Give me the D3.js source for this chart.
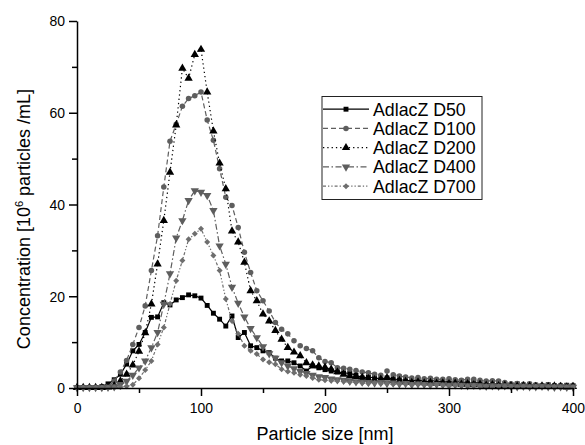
<!DOCTYPE html>
<html><head><meta charset="utf-8">
<script src="https://cdn.jsdelivr.net/npm/d3@7"></script>
<style>body{margin:0;background:#fff}svg{display:block}</style>
</head><body><svg id="c" width="585" height="445"></svg>
<script>
// Particle size bins (nm)
const sizes = d3.range(0, 401, 5);
const seriesNames = ["AdlacZ D50", "AdlacZ D100", "AdlacZ D200", "AdlacZ D400", "AdlacZ D700"];
const d50 = [
 0.1,0.1,0.1,0.1,0.3,0.9,1.8,3.0,5.2,8.1,
 9.5,12.1,15.4,15.5,18.6,18.1,19.2,19.7,20.3,20.1,
 19.6,18.0,16.3,15.0,13.5,15.7,11.0,12.1,9.2,8.8,
 8.1,7.7,6.5,5.9,5.9,5.5,4.8,3.7,4.8,4.4,
 4.0,3.7,3.5,3.3,3.2,2.8,2.2,2.4,2.2,2.0,
 2.2,2.0,1.8,1.7,1.5,1.8,1.4,1.5,1.6,1.3,
 1.4,1.2,1.5,1.0,1.2,1.1,0.9,1.0,0.8,0.9,
 0.7,0.9,0.6,0.8,0.6,0.5,0.7,0.5,0.4,0.6,
 0.5];
const d100 = [
 0.1,0.1,0.1,0.1,0.2,0.4,1.5,3.5,6.0,9.5,
 13.2,17.9,25.6,33.2,43.8,53.8,57.5,61.4,63.1,63.7,
 64.5,58.4,54.0,47.8,41.6,39.8,35.0,29.6,25.2,21.2,
 19.0,16.8,14.3,12.8,11.8,10.3,9.2,8.6,8.1,6.6,
 5.8,5.5,4.4,4.3,4.1,3.8,3.5,3.3,3.0,2.8,
 3.7,2.9,2.6,2.4,2.2,2.3,2.0,2.1,1.9,1.9,
 2.0,1.8,1.7,1.9,1.9,1.7,1.5,1.6,1.5,1.2,
 0.9,1.0,0.8,0.9,0.7,0.6,0.7,0.5,0.6,0.5,
 0.6];
const d200 = [
 0.1,0.1,0.1,0.1,0.1,0.2,0.5,1.5,3.0,5.0,
 8.0,12.0,18.3,27.0,36.5,47.0,57.3,69.7,67.5,72.7,
 73.8,64.5,56.0,49.0,43.4,34.2,31.8,27.4,21.2,19.0,
 16.1,14.6,12.5,10.6,8.8,7.8,7.0,5.5,5.0,4.8,
 4.5,4.1,3.5,3.0,2.6,2.5,2.3,2.0,1.8,1.9,
 2.2,1.6,1.6,1.4,1.2,1.3,1.1,1.2,1.0,1.1,
 0.9,1.0,0.8,0.9,0.7,0.8,0.6,0.7,0.5,0.6,
 0.5,0.4,0.5,0.4,0.3,0.4,0.3,0.4,0.3,0.2,
 0.3];
const d400 = [
 0.1,0.1,0.1,0.1,0.1,0.2,0.3,0.8,1.5,2.8,
 4.4,5.9,8.8,12.1,18.3,24.9,32.7,36.5,40.9,43.0,
 42.7,42.0,38.7,31.0,27.0,22.0,18.5,15.5,13.0,11.0,
 9.0,7.5,6.5,5.5,4.8,4.2,3.6,3.2,2.8,2.5,
 2.3,2.0,1.8,1.7,1.5,1.4,1.3,1.2,1.1,1.2,
 1.0,1.1,0.9,1.0,0.8,0.9,0.8,0.7,0.8,0.7,
 0.6,0.7,0.6,0.5,0.6,0.5,0.4,0.5,0.4,0.5,
 0.4,0.3,0.4,0.3,0.3,0.4,0.3,0.2,0.3,0.2,
 0.2];
const d700 = [
 0.1,0.1,0.1,0.1,0.1,0.1,0.1,0.2,0.4,0.7,
 2.1,3.9,5.9,9.5,13.2,18.3,23.4,27.8,32.4,33.6,
 34.7,31.8,28.9,25.6,19.4,14.6,11.8,9.2,8.1,7.4,
 6.2,5.6,5.2,4.1,3.6,3.3,2.9,2.6,2.2,1.8,
 1.7,1.6,1.5,1.4,1.3,1.2,1.1,1.0,1.1,0.9,
 1.0,0.8,0.9,0.8,0.7,0.8,0.7,0.6,0.7,0.6,
 0.5,0.6,0.5,0.4,0.5,0.4,0.4,0.3,0.4,0.3,
 0.3,0.2,0.3,0.2,0.3,0.2,0.2,0.3,0.2,0.2,
 0.2];
const xTicks = [0, 100, 200, 300, 400];
const xMinor = [50, 150, 250, 350];
const yTicks = [0, 20, 40, 60, 80];
const yMinor = [10, 30, 50, 70];

const FONT = "'Liberation Sans', Arial, sans-serif";
const svg = d3.select("#c");
const x = d3.scaleLinear().domain([0, 400]).range([77, 573]);
const y = d3.scaleLinear().domain([0, 80]).range([388, 21]);

const styles = [
  {color:"#000", dash:null, sym:d3.symbolSquare, size:24, rot:0},
  {color:"#5e5e5e", dash:"5,3", sym:d3.symbolCircle, size:24, rot:0},
  {color:"#000", dash:"1.3,3", sym:d3.symbolTriangle, size:30, rot:0},
  {color:"#5e5e5e", dash:"6,2.5,1.5,2.5", sym:d3.symbolTriangle, size:30, rot:180},
  {color:"#6e6e6e", dash:"3,2,1.3,2,1.3,2", sym:d3.symbolSquare, size:18, rot:45}
];
const data = [d50, d100, d200, d400, d700];

const line = d3.line().x((d,i)=>x(sizes[i])).y(d=>y(d));
const plot = svg.append("g");
data.forEach((vals, k) => {
  const st = styles[k];
  const g = plot.append("g");
  g.append("path").datum(vals).attr("d", line).attr("fill","none")
    .attr("stroke", st.color).attr("stroke-width", 1.2)
    .attr("stroke-dasharray", st.dash);
  g.selectAll("path.m").data(vals).join("path").attr("class","m")
    .attr("d", d3.symbol().type(st.sym).size(st.size))
    .attr("transform", (d,i)=>`translate(${x(sizes[i])},${y(d)}) rotate(${st.rot})`)
    .attr("fill", st.color);
});

// Axes
function styleAxis(g) {
  g.select(".domain").attr("stroke","#000").attr("stroke-width",1.5);
  g.selectAll(".tick line").attr("stroke","#000").attr("stroke-width",1.5);
}
const xa = svg.append("g").attr("transform",`translate(0,${y(0)})`)
  .call(d3.axisBottom(x).tickValues(xTicks).tickSize(8).tickSizeOuter(0).tickPadding(6));
styleAxis(xa);
const xm = svg.append("g").attr("transform",`translate(0,${y(0)})`)
  .call(d3.axisBottom(x).tickValues(xMinor).tickSize(5).tickFormat(""));
xm.select(".domain").remove(); xm.selectAll(".tick line").attr("stroke","#000").attr("stroke-width",1.5);

const ya = svg.append("g").attr("transform",`translate(${x(0)},0)`)
  .call(d3.axisLeft(y).tickValues(yTicks).tickSize(8).tickSizeOuter(0).tickPadding(4));
styleAxis(ya);
const ym = svg.append("g").attr("transform",`translate(${x(0)},0)`)
  .call(d3.axisLeft(y).tickValues(yMinor).tickSize(5).tickFormat(""));
ym.select(".domain").remove(); ym.selectAll(".tick line").attr("stroke","#000").attr("stroke-width",1.5);

const SX = 0.9;
[xa, ya].forEach(g => g.selectAll(".tick text")
  .attr("font-family", FONT).attr("font-size", 15.5).attr("fill","#000")
  .each(function(){ const t=d3.select(this); t.attr("x", (+t.attr("x")||0)/SX); })
  .attr("transform", `scale(${SX},1)`));

// Axis titles
svg.append("text").attr("x", 325).attr("y", 440).attr("text-anchor","middle")
  .attr("font-family", FONT).attr("font-size", 18).text("Particle size [nm]");
const yt = svg.append("text").attr("transform","translate(30,219) rotate(-90)")
  .attr("text-anchor","middle").attr("font-family", FONT).attr("font-size", 18);
yt.append("tspan").text("Concentration [10");
yt.append("tspan").attr("font-size", 11).attr("dy", -7).text("6");
yt.append("tspan").attr("dy", 7).text(" particles /mL]");

// Legend
const leg = svg.append("g");
leg.append("rect").attr("x", 322).attr("y", 96.5).attr("width", 160).attr("height", 103)
  .attr("fill","#fff").attr("stroke","#222").attr("stroke-width",1);
seriesNames.forEach((name, k) => {
  const st = styles[k];
  const by = 115.7 + k*19.25, cy = by - 6.5;
  leg.append("line").attr("x1", 323).attr("x2", 369).attr("y1", cy).attr("y2", cy)
    .attr("stroke", st.color).attr("stroke-width", 1.2).attr("stroke-dasharray", st.dash);
  leg.append("path").attr("d", d3.symbol().type(st.sym).size(st.size))
    .attr("transform", `translate(346,${cy}) rotate(${st.rot})`).attr("fill", st.color);
  leg.append("text").attr("transform", `translate(373,${by}) scale(0.96,1)`)
    .attr("font-family", FONT).attr("font-size", 18.5).text(name);
});
</script></body></html>
